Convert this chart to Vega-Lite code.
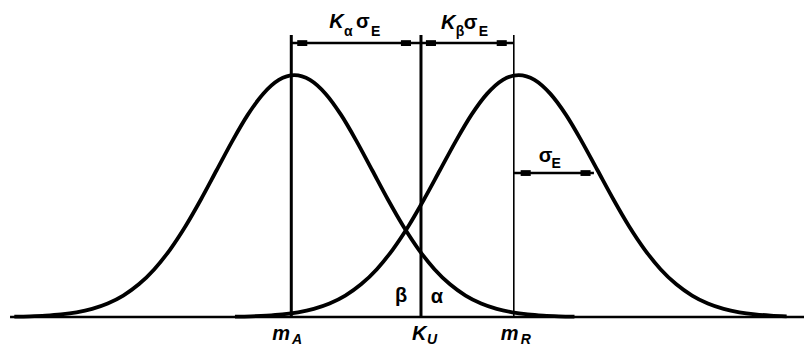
{
  "$schema": "https://vega.github.io/schema/vega-lite/v6.json",
  "width": 806,
  "height": 349,
  "autosize": {"type": "fit", "contains": "padding"},
  "padding": 0,
  "background": "white",
  "config": {"view": {"stroke": null}},
  "datasets": {
    "curves": [
      {"c":"A","x":-3.56,"y":0.0015},{"c":"A","x":-3.36,"y":0.0031},{"c":"A","x":-3.16,"y":0.006},{"c":"A","x":-2.96,"y":0.0111},
      {"c":"A","x":-2.76,"y":0.0198},{"c":"A","x":-2.56,"y":0.034},{"c":"A","x":-2.36,"y":0.0561},{"c":"A","x":-2.16,"y":0.0889},
      {"c":"A","x":-1.96,"y":0.1353},{"c":"A","x":-1.76,"y":0.1979},{"c":"A","x":-1.56,"y":0.278},{"c":"A","x":-1.36,"y":0.3753},
      {"c":"A","x":-1.16,"y":0.4868},{"c":"A","x":-0.96,"y":0.6065},{"c":"A","x":-0.76,"y":0.7261},{"c":"A","x":-0.56,"y":0.8353},
      {"c":"A","x":-0.36,"y":0.9231},{"c":"A","x":-0.16,"y":0.9802},{"c":"A","x":0.04,"y":1},{"c":"A","x":0.24,"y":0.9802},
      {"c":"A","x":0.44,"y":0.9231},{"c":"A","x":0.64,"y":0.8353},{"c":"A","x":0.84,"y":0.7261},{"c":"A","x":1.04,"y":0.6065},
      {"c":"A","x":1.24,"y":0.4868},{"c":"A","x":1.44,"y":0.3753},{"c":"A","x":1.64,"y":0.278},{"c":"A","x":1.84,"y":0.1979},
      {"c":"A","x":2.04,"y":0.1353},{"c":"A","x":2.24,"y":0.0889},{"c":"A","x":2.44,"y":0.0561},{"c":"A","x":2.64,"y":0.034},
      {"c":"A","x":2.84,"y":0.0198},{"c":"A","x":3.04,"y":0.0111},{"c":"A","x":3.24,"y":0.006},{"c":"A","x":3.44,"y":0.0031},{"c":"A","x":3.64,"y":0.0015},
      {"c":"R","x":-0.724,"y":0.0015},{"c":"R","x":-0.521,"y":0.0031},{"c":"R","x":-0.319,"y":0.006},{"c":"R","x":-0.116,"y":0.0111},
      {"c":"R","x":0.087,"y":0.0198},{"c":"R","x":0.289,"y":0.034},{"c":"R","x":0.492,"y":0.0561},{"c":"R","x":0.694,"y":0.0889},
      {"c":"R","x":0.897,"y":0.1353},{"c":"R","x":1.1,"y":0.1979},{"c":"R","x":1.302,"y":0.278},{"c":"R","x":1.505,"y":0.3753},
      {"c":"R","x":1.707,"y":0.4868},{"c":"R","x":1.91,"y":0.6065},{"c":"R","x":2.113,"y":0.7261},{"c":"R","x":2.315,"y":0.8353},
      {"c":"R","x":2.518,"y":0.9231},{"c":"R","x":2.72,"y":0.9802},{"c":"R","x":2.923,"y":1},{"c":"R","x":3.126,"y":0.9802},
      {"c":"R","x":3.328,"y":0.9231},{"c":"R","x":3.531,"y":0.8353},{"c":"R","x":3.733,"y":0.7261},{"c":"R","x":3.936,"y":0.6065},
      {"c":"R","x":4.139,"y":0.4868},{"c":"R","x":4.341,"y":0.3753},{"c":"R","x":4.544,"y":0.278},{"c":"R","x":4.746,"y":0.1979},
      {"c":"R","x":4.949,"y":0.1353},{"c":"R","x":5.152,"y":0.0889},{"c":"R","x":5.354,"y":0.0561},{"c":"R","x":5.557,"y":0.034},
      {"c":"R","x":5.759,"y":0.0198},{"c":"R","x":5.962,"y":0.0111},{"c":"R","x":6.165,"y":0.006},{"c":"R","x":6.367,"y":0.0031}
    ],
    "baseline": [
      {"x":-3.615,"x2":6.59,"y":0}
    ],
    "verticals": [
      {"name":"mA","x":0,"y0":0,"y1":1.165,"kind":"thick"},
      {"name":"KU","x":1.667,"y0":0,"y1":1.165,"kind":"thick"},
      {"name":"mR","x":2.86,"y0":0,"y1":1.165,"kind":"thin"}
    ],
    "spans": [
      {"name":"K sigma","x":0,"x2":2.86,"y":1.132},
      {"name":"sigmaE","x":2.86,"x2":3.89,"y":0.595}
    ],
    "heads": [
      {"x":0.141,"y":1.132},{"x":1.474,"y":1.132},{"x":1.795,"y":1.132},{"x":2.705,"y":1.132},
      {"x":3.013,"y":0.595},{"x":3.782,"y":0.595}
    ],
    "labels": [
      {"t":"K","x":0.487,"y":1.194,"role":"it"},
      {"t":"α","x":0.679,"y":1.161,"role":"sub"},
      {"t":"σ","x":0.833,"y":1.194,"role":"up"},
      {"t":"E","x":1.026,"y":1.161,"role":"sub"},
      {"t":"K","x":1.923,"y":1.19,"role":"it"},
      {"t":"β","x":2.115,"y":1.161,"role":"sub"},
      {"t":"σ","x":2.218,"y":1.19,"role":"up"},
      {"t":"E","x":2.41,"y":1.161,"role":"sub"},
      {"t":"σ","x":3.18,"y":0.64,"role":"up"},
      {"t":"E","x":3.346,"y":0.616,"role":"sub"},
      {"t":"m","x":-0.244,"y":-0.095,"role":"it"},
      {"t":"A","x":0.01,"y":-0.112,"role":"subit"},
      {"t":"K","x":1.551,"y":-0.095,"role":"it"},
      {"t":"U","x":1.745,"y":-0.112,"role":"subit"},
      {"t":"m","x":2.692,"y":-0.095,"role":"it"},
      {"t":"R","x":2.95,"y":-0.112,"role":"subit"}
    ],
    "areas": [
      {"t":"β","x":1.41,"y":0.062},
      {"t":"α","x":1.872,"y":0.058}
    ]
  },
  "encoding": {
    "x": {"field": "x", "type": "quantitative", "scale": {"domain": [-3.744, 6.59], "nice": false, "zero": false}, "axis": null},
    "y": {"field": "y", "type": "quantitative", "scale": {"domain": [-0.132, 1.31], "nice": false, "zero": false}, "axis": null}
  },
  "layer": [
    {
      "data": {"name": "curves"},
      "mark": {"type": "line", "color": "black", "strokeWidth": 3.8, "interpolate": "monotone"},
      "encoding": {"detail": {"field": "c"}}
    },
    {
      "data": {"name": "baseline"},
      "mark": {"type": "rule", "color": "black", "strokeWidth": 2.5},
      "encoding": {"x2": {"field": "x2"}}
    },
    {
      "data": {"name": "verticals"},
      "transform": [{"filter": "datum.kind == 'thick'"}],
      "mark": {"type": "rule", "color": "black", "strokeWidth": 3},
      "encoding": {"y": {"field": "y0", "type": "quantitative"}, "y2": {"field": "y1"}}
    },
    {
      "data": {"name": "verticals"},
      "transform": [{"filter": "datum.kind == 'thin'"}],
      "mark": {"type": "rule", "color": "black", "strokeWidth": 1.6},
      "encoding": {"y": {"field": "y0", "type": "quantitative"}, "y2": {"field": "y1"}}
    },
    {
      "data": {"name": "spans"},
      "mark": {"type": "rule", "color": "black", "strokeWidth": 2.5},
      "encoding": {"x2": {"field": "x2"}}
    },
    {
      "data": {"name": "heads"},
      "mark": {"type": "point", "filled": true, "color": "black", "opacity": 1, "size": 60, "shape": "M-1.3,-0.75L1.3,-0.75L1.3,0.75L-1.3,0.75Z"}
    },
    {
      "data": {"name": "labels"},
      "transform": [{"filter": "datum.role == 'it'"}],
      "mark": {"type": "text", "align": "left", "baseline": "alphabetic", "font": "Liberation Sans", "fontSize": 20, "fontWeight": "bold", "fontStyle": "italic", "color": "black"},
      "encoding": {"text": {"field": "t"}}
    },
    {
      "data": {"name": "labels"},
      "transform": [{"filter": "datum.role == 'up'"}],
      "mark": {"type": "text", "align": "left", "baseline": "alphabetic", "font": "Liberation Sans", "fontSize": 20, "fontWeight": "bold", "color": "black"},
      "encoding": {"text": {"field": "t"}}
    },
    {
      "data": {"name": "labels"},
      "transform": [{"filter": "datum.role == 'sub'"}],
      "mark": {"type": "text", "align": "left", "baseline": "alphabetic", "font": "Liberation Sans", "fontSize": 14, "fontWeight": "bold", "color": "black"},
      "encoding": {"text": {"field": "t"}}
    },
    {
      "data": {"name": "labels"},
      "transform": [{"filter": "datum.role == 'subit'"}],
      "mark": {"type": "text", "align": "left", "baseline": "alphabetic", "font": "Liberation Sans", "fontSize": 14, "fontWeight": "bold", "fontStyle": "italic", "color": "black"},
      "encoding": {"text": {"field": "t"}}
    },
    {
      "data": {"name": "areas"},
      "mark": {"type": "text", "align": "center", "baseline": "alphabetic", "font": "Liberation Sans", "fontSize": 20, "fontWeight": "bold", "color": "black"},
      "encoding": {"text": {"field": "t"}}
    }
  ]
}
